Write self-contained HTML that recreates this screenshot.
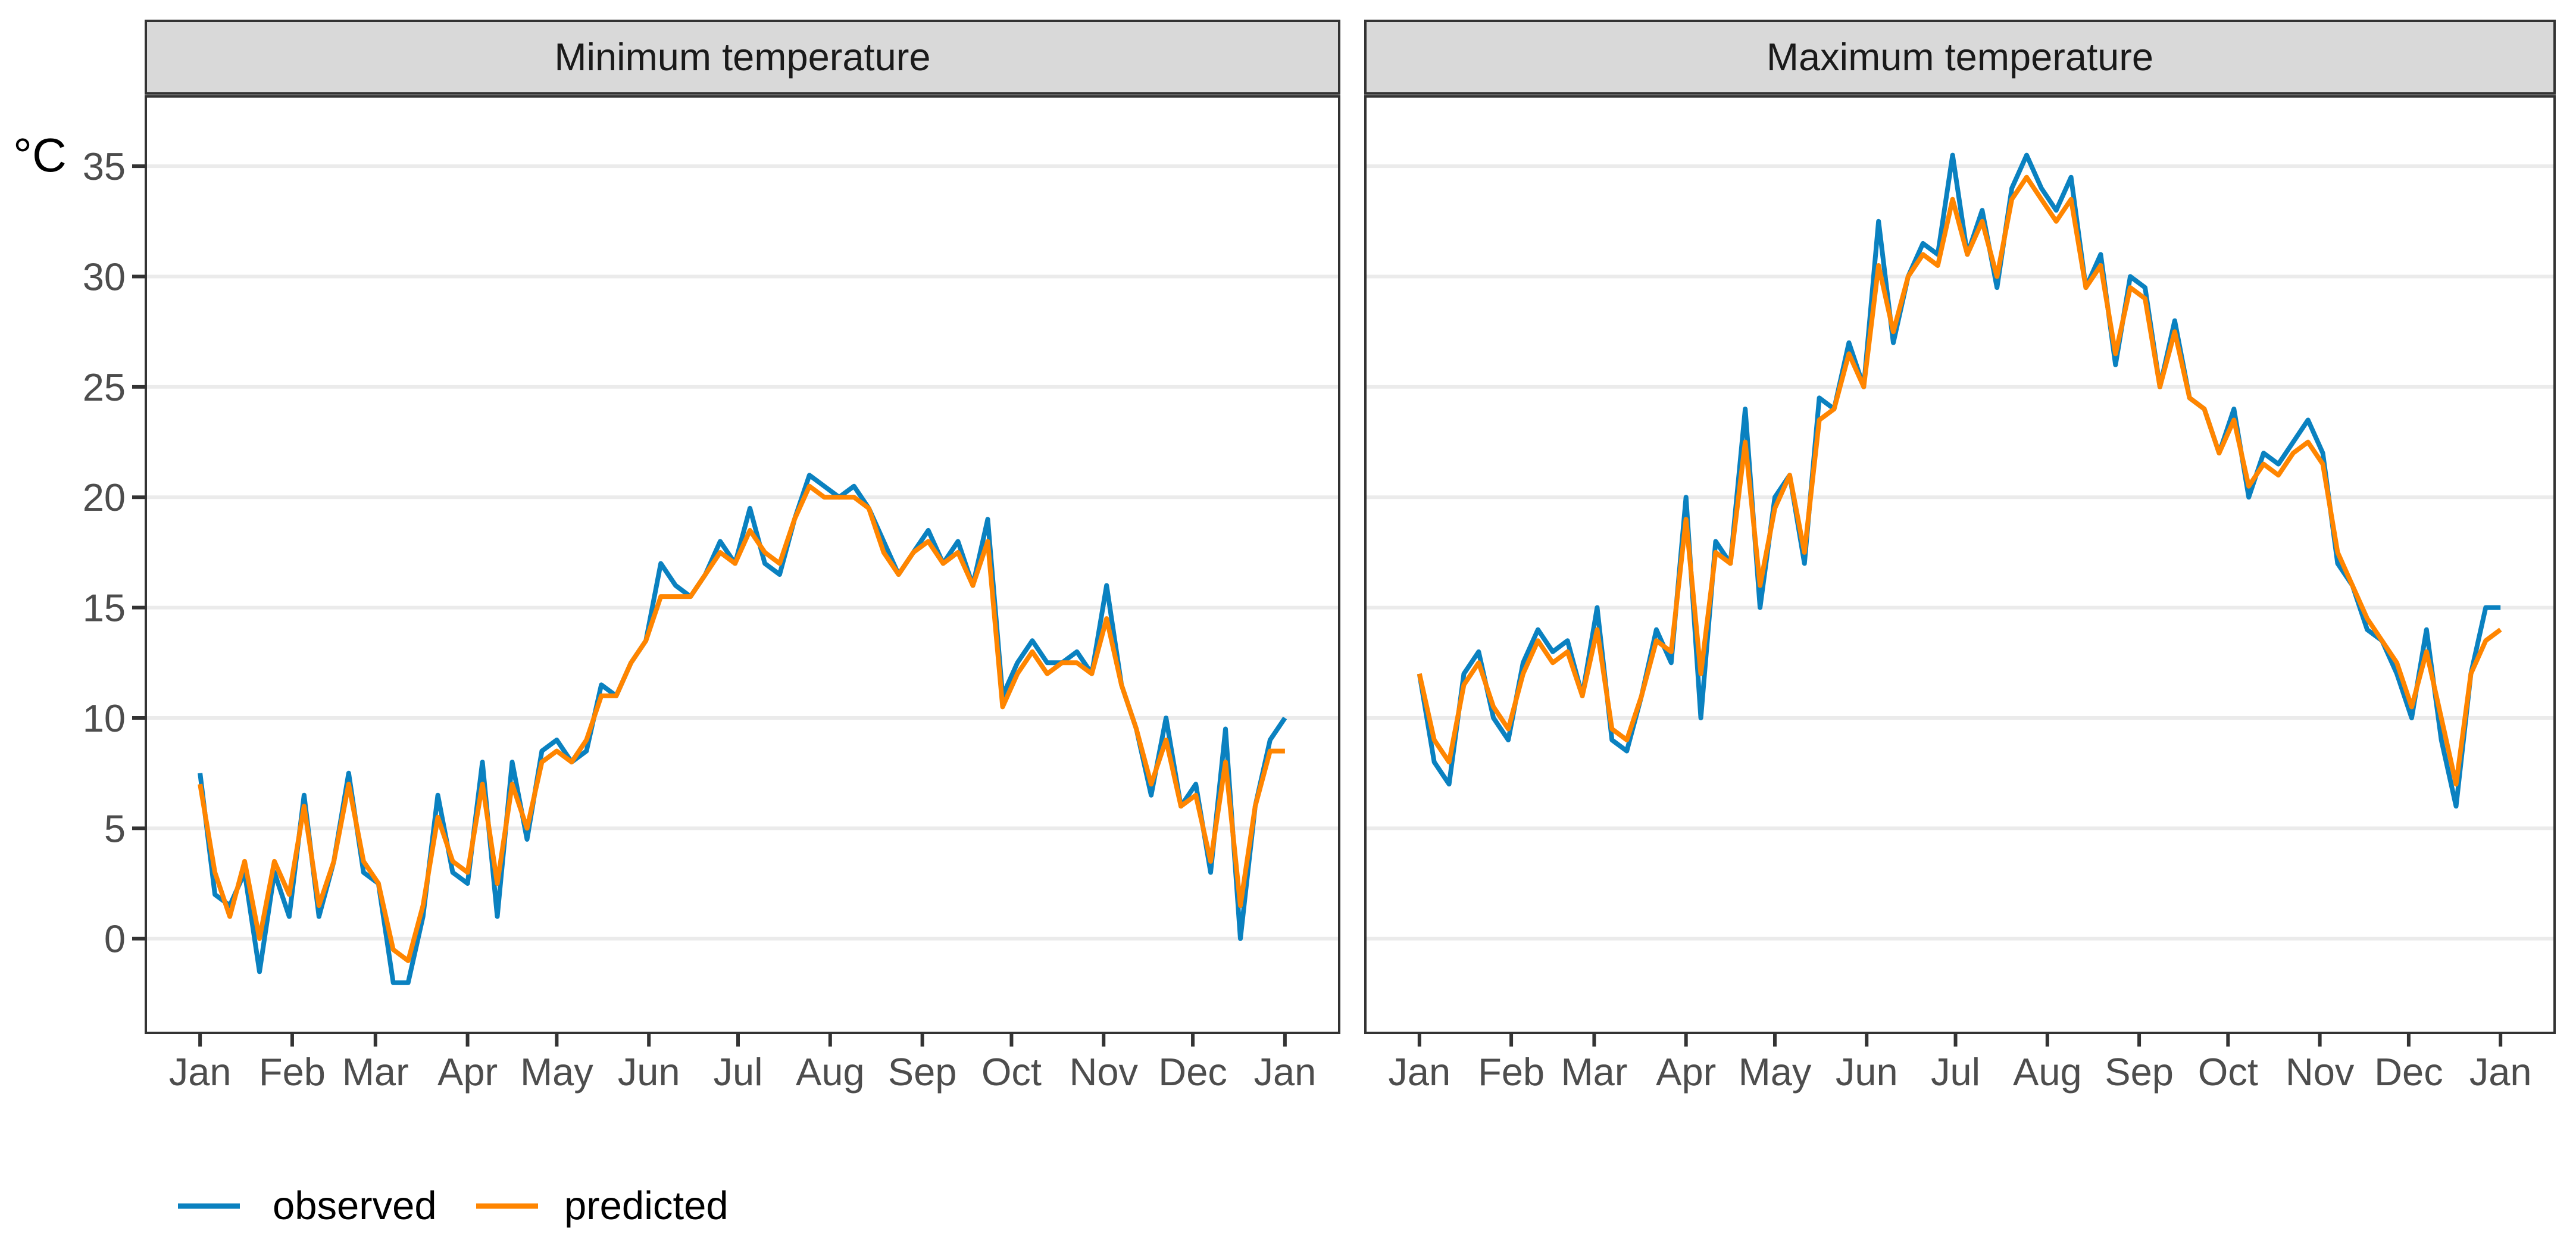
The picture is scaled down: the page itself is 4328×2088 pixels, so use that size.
<!DOCTYPE html>
<html><head><meta charset="utf-8">
<style>
html,body{margin:0;padding:0;background:#fff;}
svg{display:block;font-family:"Liberation Sans",Arial,sans-serif;}
</style></head>
<body>
<svg id="chart" width="4328" height="2088" viewBox="0 0 4328 2088" xmlns="http://www.w3.org/2000/svg">
<rect x="0" y="0" width="4328" height="2088" fill="#fff"/>
<text x="22" y="288" font-size="80" fill="#000">°C</text>
<g id="panels"></g>
<g>
<line x1="299" y1="2026" x2="403" y2="2026" stroke="#0a81c0" stroke-width="9"/>
<text x="458" y="2048" font-size="67" fill="#000">observed</text>
<line x1="800" y1="2026" x2="904" y2="2026" stroke="#ff8500" stroke-width="9"/>
<text x="948" y="2048" font-size="67" fill="#000">predicted</text>
</g>
</svg>
<script>
const days = [0,5,10,15,20,25,30,35,40,45,50,55,60,65,70,75,80,85,90,95,100,105,110,115,120,125,130,135,140,145,150,155,160,165,170,175,180,185,190,195,200,205,210,215,220,225,230,235,240,245,250,255,260,265,270,275,280,285,290,295,300,305,310,315,320,325,330,335,340,345,350,355,360,365];
const minObserved = [7.5,2,1.5,3,-1.5,3,1,6.5,1,3.5,7.5,3,2.5,-2,-2,1,6.5,3,2.5,8,1,8,4.5,8.5,9,8,8.5,11.5,11,12.5,13.5,17,16,15.5,16.5,18,17,19.5,17,16.5,19,21,20.5,20,20.5,19.5,18,16.5,17.5,18.5,17,18,16,19,11,12.5,13.5,12.5,12.5,13,12,16,11.5,9.5,6.5,10,6,7,3,9.5,0,6,9,10];
const minPredicted = [7,3,1,3.5,0,3.5,2,6,1.5,3.5,7,3.5,2.5,-0.5,-1,1.5,5.5,3.5,3,7,2.5,7,5,8,8.5,8,9,11,11,12.5,13.5,15.5,15.5,15.5,16.5,17.5,17,18.5,17.5,17,19,20.5,20,20,20,19.5,17.5,16.5,17.5,18,17,17.5,16,18,10.5,12,13,12,12.5,12.5,12,14.5,11.5,9.5,7,9,6,6.5,3.5,8,1.5,6,8.5,8.5];
const maxObserved = [12,8,7,12,13,10,9,12.5,14,13,13.5,11,15,9,8.5,11,14,12.5,20,10,18,17,24,15,20,21,17,24.5,24,27,25,32.5,27,30,31.5,31,35.5,31,33,29.5,34,35.5,34,33,34.5,29.5,31,26,30,29.5,25,28,24.5,24,22,24,20,22,21.5,22.5,23.5,22,17,16,14,13.5,12,10,14,9,6,12,15,15];
const maxPredicted = [12,9,8,11.5,12.5,10.5,9.5,12,13.5,12.5,13,11,14,9.5,9,11,13.5,13,19,12,17.5,17,22.5,16,19.5,21,17.5,23.5,24,26.5,25,30.5,27.5,30,31,30.5,33.5,31,32.5,30,33.5,34.5,33.5,32.5,33.5,29.5,30.5,26.5,29.5,29,25,27.5,24.5,24,22,23.5,20.5,21.5,21,22,22.5,21.5,17.5,16,14.5,13.5,12.5,10.5,13,10,7,12,13.5,14];
const yTicks = [0,5,10,15,20,25,30,35];
const yTickLabels = ["0","5","10","15","20","25","30","35"];
const monthDays = [0,31,59,90,120,151,181,212,243,273,304,334,365];
const monthLabels = ["Jan","Feb","Mar","Apr","May","Jun","Jul","Aug","Sep","Oct","Nov","Dec","Jan"];
const panelTitles = ["Minimum temperature","Maximum temperature"];

const NS = "http://www.w3.org/2000/svg";
const root = document.getElementById('panels');
function mk(tag, attrs, parent){const e=document.createElementNS(NS,tag);for(const k in attrs)e.setAttribute(k,attrs[k]);parent.appendChild(e);return e;}
const plotTop=162, plotBottom=1735, stripTop=35, stripBottom=157;
const yMin=-4.27, yMax=38.16;
function yScale(v){return plotBottom-(v-yMin)/(yMax-yMin)*(plotBottom-plotTop);}
const xDomain=[-18.25,383.25];
const panelsX=[[245,2250],[2294,4292]];
const series=[[minObserved,minPredicted],[maxObserved,maxPredicted]];
panelsX.forEach((px,pi)=>{
  const g=mk('g',{},root);
  
  
  const xScale=d=>px[0]+(d-xDomain[0])/(xDomain[1]-xDomain[0])*(px[1]-px[0]);
  const strip=mk('rect',{x:px[0],y:stripTop,width:px[1]-px[0],height:stripBottom-stripTop,fill:'#d9d9d9',stroke:'#333','stroke-width':4},g);
  
  
  const st=mk('text',{x:(px[0]+px[1])/2,y:118,'font-size':65,fill:'#1a1a1a','text-anchor':'middle'},g);
  st.textContent=panelTitles[pi];
  
  
  yTicks.forEach((t,i)=>{
    const gl=mk('line',{x1:px[0],x2:px[1],y1:yScale(t),y2:yScale(t),stroke:'#ebebeb','stroke-width':6},g);
    
    
    if(pi===0){
      const tk=mk('line',{x1:px[0]-23,x2:px[0],y1:yScale(t),y2:yScale(t),stroke:'#333','stroke-width':6},g);
      
      
      const tl=mk('text',{x:px[0]-34,y:yScale(t)+23,'font-size':65,fill:'#4d4d4d','text-anchor':'end'},g);
      tl.textContent=yTickLabels[i];
      
      
    }
  });
  const colors=['#0a81c0','#ff8500'];
  series[pi].forEach((vals,si)=>{
    const d=vals.map((v,i)=>(i?'L':'M')+xScale(days[i]).toFixed(1)+','+yScale(v).toFixed(1)).join(' ');
    const p=mk('path',{d:d,fill:'none',stroke:colors[si],'stroke-width':8,'stroke-linejoin':'round'},g);
    
    
  });
  const border=mk('rect',{x:px[0],y:plotTop,width:px[1]-px[0],height:plotBottom-plotTop,fill:'none',stroke:'#333','stroke-width':4},g);
  
  
  monthDays.forEach((m,i)=>{
    const tk=mk('line',{x1:xScale(m),x2:xScale(m),y1:plotBottom,y2:plotBottom+23,stroke:'#333','stroke-width':6},g);
    
    
    const tl=mk('text',{x:xScale(m),y:1823,'font-size':65,fill:'#4d4d4d','text-anchor':'middle'},g);
    tl.textContent=monthLabels[i];
    
    
  });
});
</script>
</body></html>
